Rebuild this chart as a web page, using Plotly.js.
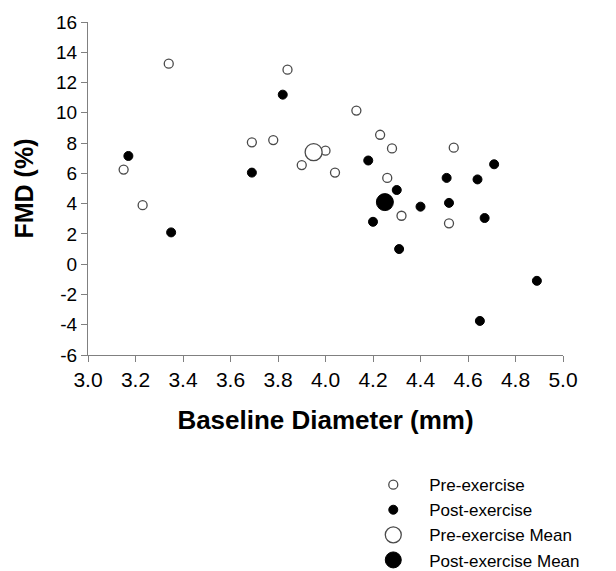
<!DOCTYPE html>
<html>
<head>
<meta charset="utf-8">
<script src="https://cdn.plot.ly/plotly-3.0.1.min.js"></script>
<style>html,body{margin:0;padding:0;background:#fff;}#chart{width:616px;height:571px;}</style>
</head>
<body>
<div id="chart"></div>
<script>
// Pre-exercise individual values
var preX = [3.15, 3.23, 3.34, 3.69, 3.78, 3.84, 3.90, 4.00, 4.04, 4.13, 4.23, 4.28, 4.26, 4.32, 4.54, 4.52];
var preY = [6.25, 3.9, 13.25, 8.05, 8.2, 12.85, 6.55, 7.5, 6.05, 10.15, 8.55, 7.65, 5.7, 3.2, 7.7, 2.7];
// Post-exercise individual values
var postX = [3.17, 3.35, 3.69, 3.82, 4.18, 4.30, 4.40, 4.20, 4.31, 4.51, 4.52, 4.64, 4.71, 4.67, 4.89, 4.65];
var postY = [7.15, 2.1, 6.05, 11.2, 6.85, 4.9, 3.8, 2.8, 1.0, 5.7, 4.05, 5.6, 6.6, 3.05, -1.1, -3.75];
// Means
var preMeanX = [3.95];
var preMeanY = [7.4];
var postMeanX = [4.25];
var postMeanY = [4.1];
var seriesNames = ["Pre-exercise", "Post-exercise", "Pre-exercise Mean", "Post-exercise Mean"];
// Tick labels
var xTickVals = [3.0, 3.2, 3.4, 3.6, 3.8, 4.0, 4.2, 4.4, 4.6, 4.8, 5.0];
var xTickText = ["3.0", "3.2", "3.4", "3.6", "3.8", "4.0", "4.2", "4.4", "4.6", "4.8", "5.0"];
var yTickVals = [-6, -4, -2, 0, 2, 4, 6, 8, 10, 12, 14, 16];
var yTickText = ["-6", "-4", "-2", "0", "2", "4", "6", "8", "10", "12", "14", "16"];

var font = "Liberation Sans, Arial, sans-serif";
var traces = [
  {x: preX, y: preY, name: seriesNames[0], type: "scatter", mode: "markers",
   marker: {size: 9, color: "#ffffff", line: {color: "#4a4a4a", width: 1.3}}},
  {x: postX, y: postY, name: seriesNames[1], type: "scatter", mode: "markers",
   marker: {size: 9, color: "#000000", line: {color: "#000000", width: 1}}},
  {x: preMeanX, y: preMeanY, name: seriesNames[2], type: "scatter", mode: "markers",
   marker: {size: 17, color: "#ffffff", line: {color: "#4a4a4a", width: 1.3}}},
  {x: postMeanX, y: postMeanY, name: seriesNames[3], type: "scatter", mode: "markers",
   marker: {size: 17, color: "#000000", line: {color: "#000000", width: 1}}}
];

var layout = {
  width: 616, height: 571,
  margin: {l: 88, r: 53, t: 22, b: 216, autoexpand: false},
  paper_bgcolor: "#ffffff", plot_bgcolor: "#ffffff",
  font: {family: font, size: 16, color: "#000000"},
  showlegend: true,
  legend: {xref: "container", yref: "container", x: 0.58, y: 0.182, xanchor: "left", yanchor: "top",
           font: {family: font, size: 17, color: "#000000"}, itemwidth: 62,
           bgcolor: "rgba(0,0,0,0)", tracegroupgap: 0, itemsizing: "trace"},
  xaxis: {
    range: [3.0, 5.0], tickmode: "array", tickvals: xTickVals, ticktext: xTickText,
    showgrid: false, zeroline: false, showline: true, linecolor: "#808080", linewidth: 1,
    ticks: "outside", ticklen: 6, tickcolor: "#808080", tickwidth: 1,
    tickfont: {family: font, size: 21, color: "#000000"},
    title: {text: "<b>Baseline Diameter (mm)</b>", font: {family: font, size: 26, color: "#000000"}, standoff: 20}
  },
  yaxis: {
    range: [-6, 16], tickmode: "array", tickvals: yTickVals, ticktext: yTickText,
    showgrid: false, zeroline: false, showline: true, linecolor: "#808080", linewidth: 1,
    ticks: "outside", ticklen: 6, tickcolor: "#808080", tickwidth: 1,
    tickfont: {family: font, size: 19, color: "#000000"},
    title: {text: "<b>FMD (%)</b>", font: {family: font, size: 25, color: "#000000"}, standoff: 15}
  }
};

Plotly.newPlot("chart", traces, layout, {displayModeBar: false, staticPlot: true});
</script>
</body>
</html>
